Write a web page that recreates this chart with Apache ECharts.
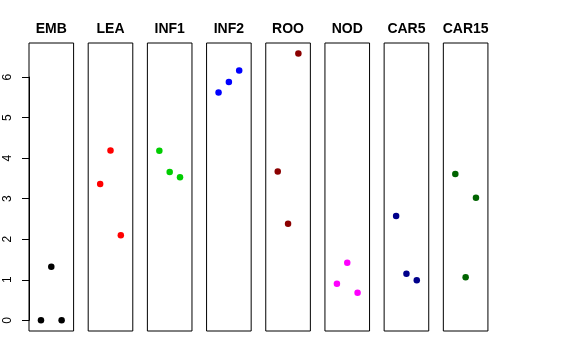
<!DOCTYPE html>
<html><head><meta charset="utf-8">
<script src="https://cdn.jsdelivr.net/npm/echarts@6/dist/echarts.min.js"></script>
<style>html,body{margin:0;padding:0;background:#fff}#c{width:576px;height:360px}</style>
</head><body><div id="c"></div>
<script>
const categories = ['EMB','LEA','INF1','INF2','ROO','NOD','CAR5','CAR15'];
const colors = ['#000000','#FF0000','#00CD00','#0000FF','#8B0000','#FF00FF','#00008B','#006400'];
const xPositions = [1, 2, 3];
const EMB = [0.00, 1.32, 0.00];
const LEA = [3.36, 4.19, 2.10];
const INF1 = [4.18, 3.66, 3.53];
const INF2 = [5.62, 5.88, 6.16];
const ROO = [3.67, 2.38, 6.58];
const NOD = [0.90, 1.42, 0.68];
const CAR5 = [2.57, 1.15, 0.99];
const CAR15 = [3.61, 1.06, 3.02];
const yTicks = [0, 1, 2, 3, 4, 5, 6];
const seriesValues = [EMB, LEA, INF1, INF2, ROO, NOD, CAR5, CAR15];

(function () {
const chart = echarts.init(document.getElementById('c'), null, {renderer:'canvas'});
const left0 = 29, step = 59.19, pw = 44.6, gTop = 43, ph = 288;
const grids = [], xAxes = [], yAxes = [], series = [], titles = [];
categories.forEach((c, i) => {
  const l = left0 + i * step;
  grids.push({left: l, top: gTop, width: pw, height: ph, show: true, borderColor: '#000', borderWidth: 1, backgroundColor: 'transparent'});
  xAxes.push({gridIndex: i, type: 'value', min: -0.16, max: 4.16, show: false});
  yAxes.push({gridIndex: i, type: 'value', min: -0.264, max: 6.84, show: false});
  series.push({type: 'scatter', xAxisIndex: i, yAxisIndex: i, symbolSize: 6.5,
    itemStyle: {color: colors[i], opacity: 1},
    data: xPositions.map((x, k) => [x, seriesValues[i][k]]), silent: true});
  titles.push({text: c, left: l + pw / 2, top: 22, padding: 0, textAlign: 'center',
    textStyle: {fontFamily: 'Liberation Sans, Arial', fontWeight: 'bold', fontSize: 14, color: '#000'}});
});
const yPerUnit = ph / (6.84 + 0.264);
const y6 = gTop + (6.84 - 6) * yPerUnit;
const y0 = gTop + (6.84 - 0) * yPerUnit;
grids.push({left: left0, top: y6, width: 1, height: y0 - y6, show: false});
xAxes.push({gridIndex: 8, type: 'value', show: false, min: 0, max: 1});
yAxes.push({gridIndex: 8, type: 'value', min: yTicks[0], max: yTicks[yTicks.length - 1], interval: 1,
  axisLine: {show: true, lineStyle: {color: '#000', width: 1}},
  axisTick: {show: true, length: 7, lineStyle: {color: '#000'}},
  axisLabel: {show: true, rotate: 90, margin: 15, fontSize: 12, color: '#000', fontFamily: 'Liberation Sans, Arial'},
  splitLine: {show: false}});
chart.setOption({
  animation: false,
  backgroundColor: '#fff',
  title: titles,
  grid: grids, xAxis: xAxes, yAxis: yAxes, series: series
});
})();
</script></body></html>
